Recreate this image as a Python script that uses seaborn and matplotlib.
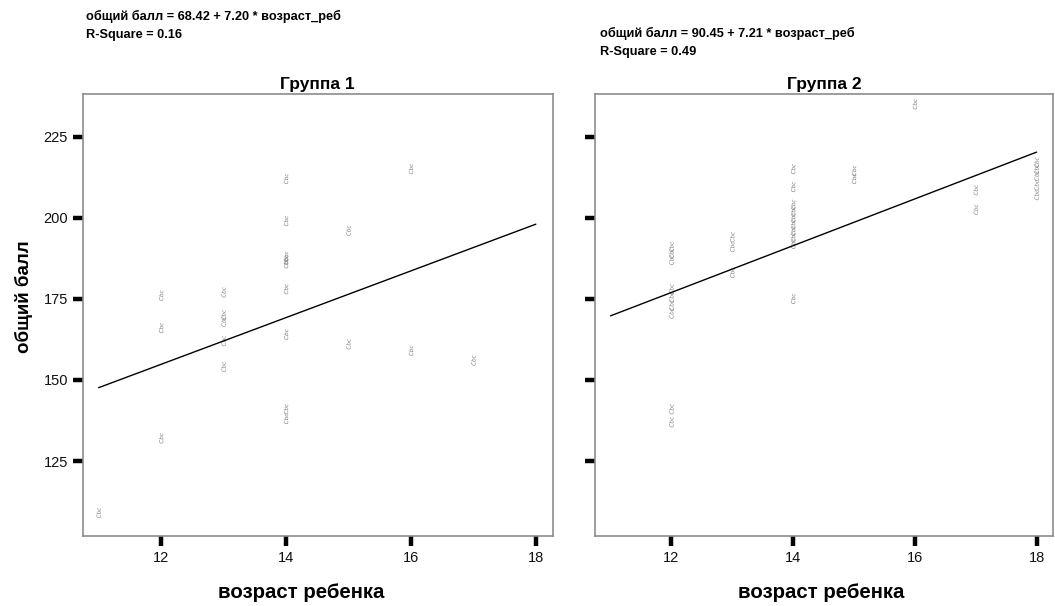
import matplotlib
matplotlib.use("Agg")
import matplotlib.pyplot as plt
import seaborn as sns
import pandas as pd
from matplotlib.markers import MarkerStyle
from matplotlib.transforms import Affine2D

# ---- data ----
group_titles = ["Группа 1", "Группа 2"]
g1_age = [11, 12, 12, 12, 13, 13, 13, 13, 13, 14, 14, 14, 14, 14, 14, 14, 14, 14,
          15, 15, 16, 16, 17]
g1_score = [109, 176, 166, 132, 177, 170, 168, 162, 154, 212, 199, 188, 187, 186,
            178, 164, 141, 138, 196, 161, 215, 159, 156]
g2_age = [12, 12, 12, 12, 12, 12, 12, 12, 12, 13, 13, 13,
          14, 14, 14, 14, 14, 14, 14, 14, 14, 14, 15, 15, 16, 17, 17,
          18, 18, 18, 18, 18]
g2_score = [191, 189, 187, 178, 175.5, 173, 170.5, 141, 137, 194, 191, 183,
            215, 209.5, 204, 202, 200, 198, 196, 194, 192, 175, 214.5, 212, 235,
            208.5, 202.5, 217, 215, 213, 210, 207]
intercepts = [68.42, 90.45]
slopes = [7.20, 7.21]
r_squares = [0.16, 0.49]
fit_x = [11, 18]
x_ticks = [12, 14, 16, 18]
y_ticks = [125, 150, 175, 200, 225]

sns.set_style("white")
plt.rcParams["font.family"] = ["Liberation Sans", "DejaVu Sans"]
plt.rcParams["text.color"] = "black"

W, H = 1055, 606
fig = plt.figure(figsize=(W / 100, H / 100), dpi=100)

def fx(px):
    return px / W

def fy(py):
    return 1 - py / H

boxes = [(82.7, 552.7), (595, 1053)]
top, bottom = 93.5, 536
marker = MarkerStyle("$Cbc$", transform=Affine2D().rotate_deg(90))

data = [(g1_age, g1_score), (g2_age, g2_score)]
eq_pos = [(86, 16, 35), (600, 33, 52)]
for i, ((x0, x1), (ages, scores)) in enumerate(zip(boxes, data)):
    ax = fig.add_axes([fx(x0), fy(bottom), (x1 - x0) / W, (bottom - top) / H])
    df = pd.DataFrame({"age": ages, "score": scores})
    sns.scatterplot(data=df, x="age", y="score", ax=ax, marker=marker, s=55,
                    color="#7a7a7a", edgecolor="none", linewidth=0, zorder=2)
    fit_y = [intercepts[i] + slopes[i] * v for v in fit_x]
    sns.lineplot(x=fit_x, y=fit_y, ax=ax, color="black", linewidth=1.0, zorder=3)
    ax.set_xlim(10.745, 18.27)
    ax.set_ylim(101.9, 238.3)
    ax.set_xticks(x_ticks)
    ax.set_yticks(y_ticks)
    ax.tick_params(axis="both", direction="out", length=7.5, width=3.2,
                   color="black", labelsize=10.5, labelcolor="#111111", pad=3,
                   bottom=True, left=True)
    if i == 1:
        ax.set_yticklabels([])
    ax.set_xlabel("")
    ax.set_ylabel("")
    for sp in ax.spines.values():
        sp.set_color("#8c8c8c")
        sp.set_linewidth(1.2)
    ax.set_title(group_titles[i], fontsize=12.5, fontweight="bold", pad=3,
                 color="black")
    ex, ey1, ey2 = eq_pos[i]
    fig.text(fx(ex), fy(ey1),
             f"общий балл = {intercepts[i]:.2f} + {slopes[i]:.2f} * возраст_реб",
             fontsize=9.2, fontweight="bold", va="center", ha="left")
    fig.text(fx(ex), fy(ey2), f"R-Square = {r_squares[i]:.2f}",
             fontsize=9.2, fontweight="bold", va="center", ha="left")

fig.text(fx(301), fy(593), "возраст ребенка", fontsize=14.7, fontweight="bold",
         ha="center", va="center")
fig.text(fx(821), fy(593), "возраст ребенка", fontsize=14.7, fontweight="bold",
         ha="center", va="center")
fig.text(fx(24), fy(297), "общий балл", fontsize=13.5, fontweight="bold",
         ha="center", va="center", rotation=90)

fig.savefig("out.png", dpi=100)
